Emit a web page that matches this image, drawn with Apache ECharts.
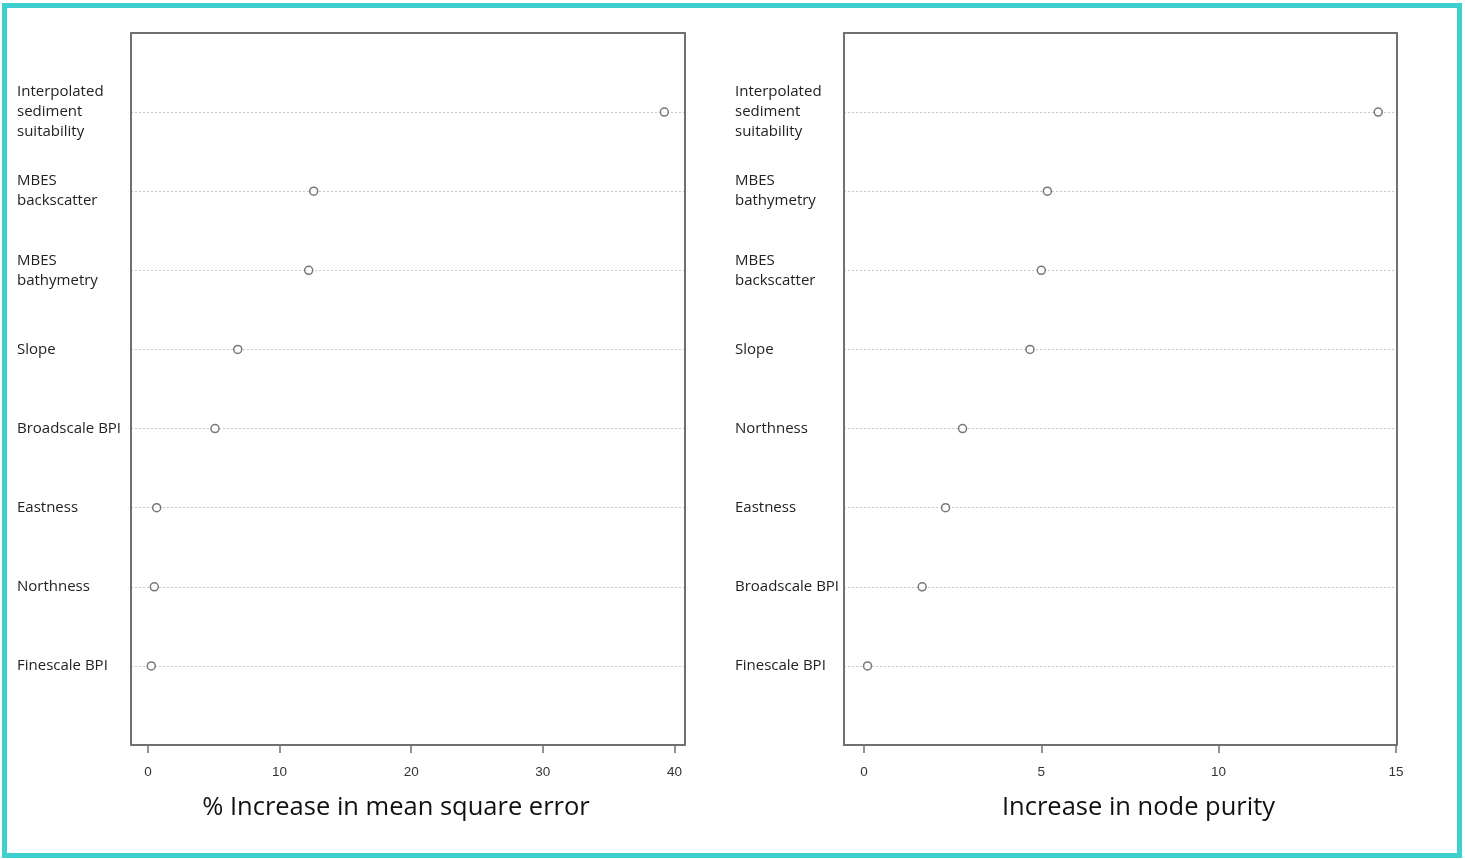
<!DOCTYPE html>
<html>
<head>
<meta charset="utf-8">
<script src="https://cdn.jsdelivr.net/npm/echarts@6/dist/echarts.min.js"></script>
<style>
  html, body { margin: 0; padding: 0; background: #fff; }
  #frame { position: absolute; left: 2px; top: 3px; width: 1460px; height: 855px; box-sizing: border-box; border: 5px solid #3ecfcf; pointer-events: none; z-index: 2; }
  #chart { position: absolute; left: 0; top: 0; width: 1465px; height: 859px; }
</style>
</head>
<body>
<div id="chart"></div>
<div id="frame"></div>
<script>
// Left panel (top to bottom)
const leftNames = ['Interpolated\nsediment\nsuitability', 'MBES\nbackscatter', 'MBES\nbathymetry', 'Slope', 'Broadscale BPI', 'Eastness', 'Northness', 'Finescale BPI'];
const leftValues = [39.23, 12.59, 12.21, 6.82, 5.09, 0.66, 0.48, 0.25];
const leftTicks = [0, 10, 20, 30, 40];
const leftTitle = '% Increase in mean square error';

// Right panel (top to bottom)
const rightNames = ['Interpolated\nsediment\nsuitability', 'MBES\nbathymetry', 'MBES\nbackscatter', 'Slope', 'Northness', 'Eastness', 'Broadscale BPI', 'Finescale BPI'];
const rightValues = [14.50, 5.17, 5.00, 4.68, 2.78, 2.30, 1.64, 0.10];
const rightTicks = [0, 5, 10, 15];
const rightTitle = 'Increase in node purity';

const N = leftNames.length;
const boxColor = '#707070';

function rowData(values) {
  return values.map((v, i) => [v, N - i]);
}

function xAxes(grid, min, max, ticks, title, pad) {
  return [
    {
      type: 'value', gridIndex: grid, min: min, max: max, position: 'bottom',
      axisLine: { show: true, onZero: false, lineStyle: { color: boxColor, width: 2 } },
      axisTick: { show: true, customValues: ticks, length: 8, lineStyle: { color: boxColor, width: 1.5 } },
      axisLabel: { show: true, customValues: ticks, margin: 20, fontFamily: 'Liberation Sans', fontSize: 13.5, color: '#333' },
      splitLine: { show: false },
      name: title, nameLocation: 'middle', nameGap: 50,
      nameTextStyle: { fontFamily: 'Open Sans', fontSize: 25.5, color: '#111', padding: pad }
    },
    {
      type: 'value', gridIndex: grid, min: min, max: max, position: 'top',
      axisLine: { show: true, onZero: false, lineStyle: { color: boxColor, width: 2 } },
      axisTick: { show: false }, axisLabel: { show: false }, splitLine: { show: false }
    }
  ];
}

function yAxes(grid, names, margin) {
  return [
    {
      type: 'value', gridIndex: grid, min: 0, max: N + 1, interval: 1, position: 'left',
      axisLine: { show: true, onZero: false, lineStyle: { color: boxColor, width: 2 } },
      axisTick: { show: false },
      axisLabel: {
        show: true, align: 'left', margin: margin,
        fontFamily: 'Open Sans', fontSize: 15, lineHeight: 20, color: '#222',
        padding: [0, 0, 4, 0],
        formatter: function (v) { return (v >= 1 && v <= N) ? names[N - v] : ''; }
      },
      splitLine: { show: true, lineStyle: { color: '#c8c8c8', type: [2, 2], width: 1 } }
    },
    {
      type: 'value', gridIndex: grid, min: 0, max: N + 1, position: 'right',
      axisLine: { show: true, onZero: false, lineStyle: { color: boxColor, width: 2 } },
      axisTick: { show: false }, axisLabel: { show: false }, splitLine: { show: false }
    }
  ];
}

const chart = echarts.init(document.getElementById('chart'), null, { renderer: 'canvas' });

const option = {
  backgroundColor: '#fff',
  animation: false,
  grid: [
    { left: 131, top: 33, width: 554, height: 712 },
    { left: 844, top: 33, width: 553, height: 712 }
  ],
  xAxis: [].concat(
    xAxes(0, -1.29, 40.8, leftTicks, leftTitle, [0, 24, 0, 0]),
    xAxes(1, -0.564, 15.03, rightTicks, rightTitle, [0, 0, 0, 36])
  ),
  yAxis: [].concat(
    yAxes(0, leftNames, 114),
    yAxes(1, rightNames, 109)
  ),
  series: [
    {
      type: 'scatter', xAxisIndex: 0, yAxisIndex: 0, data: rowData(leftValues),
      symbol: 'circle', symbolSize: 8,
      itemStyle: { color: '#fff', borderColor: '#555', borderWidth: 1.5 }
    },
    {
      type: 'scatter', xAxisIndex: 2, yAxisIndex: 2, data: rowData(rightValues),
      symbol: 'circle', symbolSize: 8,
      itemStyle: { color: '#fff', borderColor: '#555', borderWidth: 1.5 }
    }
  ]
};
chart.setOption(option);
</script>
</body>
</html>
